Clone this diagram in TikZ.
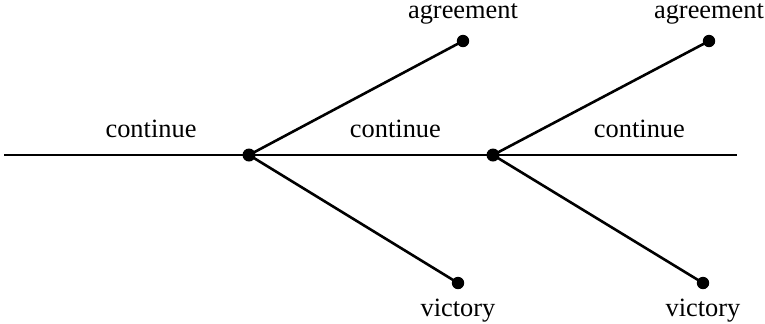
\documentclass[tikz,border=0pt]{standalone}
\usepackage{fontspec}
\setmainfont{Liberation Serif}
\usetikzlibrary{positioning}

\begin{document}
\begin{tikzpicture}[x=0.5pt,y=-0.5pt,line width=1.3pt,
    font=\fontsize{13.2}{15}\selectfont,
    choice/.style={circle,fill,inner sep=0pt,minimum size=6.5pt},
    outcome/.style={circle,fill,inner sep=0pt,minimum size=6.2pt}]
                \useasboundingbox (0,0) rectangle (765,323);
                % Decision points
                \coordinate (start) at (4,155);
                \node[choice] (n1) at (249,155) {};
                \node[choice] (n2) at (493,155) {};
                \coordinate (stop) at (737,155);
                
                % Terminal outcomes
                \node[outcome] (a1) at (463,41) {};
                \node[outcome] (v1) at (458,283) {};
                \node[outcome] (a2) at (709,41) {};
                \node[outcome] (v2) at (703,283) {};
                
                % Main path
                \draw (start) -- node[pos=0.6,above=4.5pt] {continue} (n1.center);
                \draw (n1.center) -- node[pos=0.6,above=4.5pt] {continue} (n2.center);
                \draw (n2.center) -- node[pos=0.6,above=4.5pt] {continue} (stop);
                
                % Branches
                \draw (n1.center) -- (a1.center);
                \draw (n1.center) -- (v1.center);
                \draw (n2.center) -- (a2.center);
                \draw (n2.center) -- (v2.center);
                \node[above=0.5pt of a1] {agreement};
                \node[above=0.5pt of a2] {agreement};
                \node[below=0.5pt of v1] {victory};
                \node[below=0.5pt of v2] {victory};
            \end{tikzpicture}
\end{document}
